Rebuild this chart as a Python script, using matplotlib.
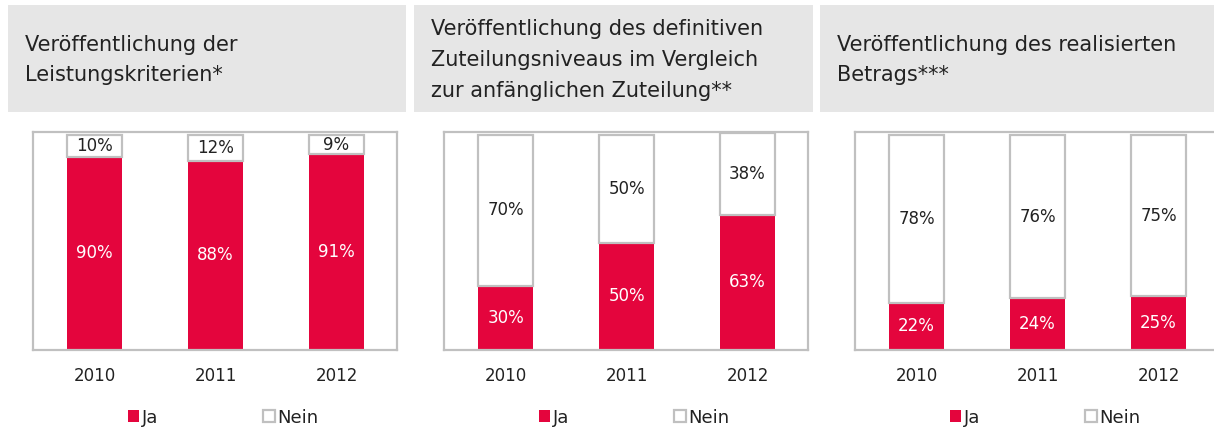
import matplotlib.pyplot as plt
from matplotlib.patches import Rectangle, Patch

plt.rcParams['font.family'] = ['DejaVu Sans']

years = ['2010', '2011', '2012']

titles = [
    'Veröffentlichung der\nLeistungskriterien*',
    'Veröffentlichung des definitiven\nZuteilungsniveaus im Vergleich\nzur anfänglichen Zuteilung**',
    'Veröffentlichung des realisierten\nBetrags***',
]

ja_kriterien = [90, 88, 91]
nein_kriterien = [10, 12, 9]
ja_zuteilung = [30, 50, 63]
nein_zuteilung = [70, 50, 38]
ja_betrag = [22, 24, 25]
nein_betrag = [78, 76, 75]

panels = [
    (ja_kriterien, nein_kriterien),
    (ja_zuteilung, nein_zuteilung),
    (ja_betrag, nein_betrag),
]

red = '#e4053d'
grey = '#c0c0c0'
band = '#e6e6e6'
txt = '#222222'

W, H = 1214, 430
fig = plt.figure(figsize=(W / 100, H / 100), dpi=100)

# grey title bands, pixel positions turned into figure fractions
bands = [(8, 406), (414, 813), (820, 1214)]
for (x0, x1), t in zip(bands, titles):
    fig.patches.append(Rectangle((x0 / W, 1 - 112 / H), (x1 - x0) / W, 107 / H,
                                 transform=fig.transFigure, facecolor=band,
                                 edgecolor='none', zorder=0))
    fig.text((x0 + 17) / W, 1 - 60 / H, t, ha='left', va='center',
             fontsize=15, color=txt, linespacing=1.68)

frame_left = [33, 444, 855]
frame_w = 364
for left, (ja, nein) in zip(frame_left, panels):
    ax = fig.add_axes([left / W, 80 / H, frame_w / W, 218 / H])
    x = range(len(years))
    ax.bar(x, ja, width=0.46, color=red, edgecolor='none', zorder=2)
    ax.bar(x, nein, bottom=ja, width=0.46, color='white', edgecolor=grey,
           linewidth=1.6, zorder=2)
    for i in x:
        ax.text(i, ja[i] / 2, f'{ja[i]}%', ha='center', va='center',
                color='white', fontsize=12)
        ax.text(i, ja[i] + nein[i] / 2, f'{nein[i]}%', ha='center',
                va='center', color=txt, fontsize=12)
    ax.set_xlim(-0.51, 2.5)
    ax.set_ylim(0, 101.4)
    ax.set_yticks([])
    ax.set_xticks(list(x))
    ax.set_xticklabels(years, fontsize=12, color=txt)
    ax.tick_params(axis='x', length=0, pad=12)
    for s in ax.spines.values():
        s.set_color(grey)
        s.set_linewidth(1.6)
    handles = [Patch(facecolor=red, edgecolor='none', label='Ja'),
               Patch(facecolor='white', edgecolor=grey, linewidth=1.6, label='Nein')]
    ax.legend(handles=handles, loc='center', bbox_to_anchor=(0.522, -0.31),
              ncol=2, frameon=False, fontsize=13, handlelength=0.62,
              handleheight=0.62, handletextpad=0.15, columnspacing=5.85,
              labelcolor=txt)

fig.savefig('out.png', dpi=100)
